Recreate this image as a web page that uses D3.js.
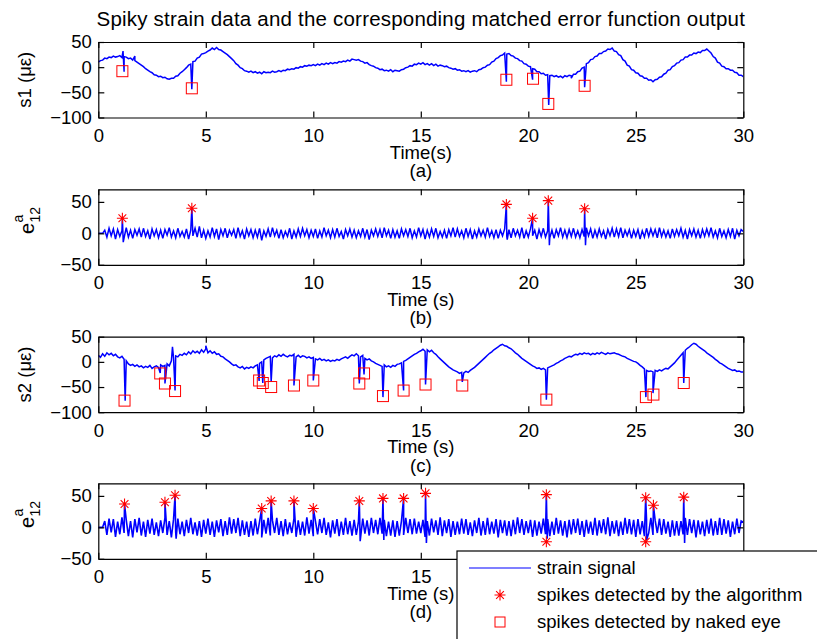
<!DOCTYPE html>
<html><head><meta charset="utf-8">
<script src="https://cdn.jsdelivr.net/npm/d3@7"></script>
<style>body{margin:0;background:#fff} text{font-family:"Liberation Sans",Arial,sans-serif;fill:#000}</style>
</head><body><svg id="chart" width="817" height="639"></svg>
<script>
const dt = 0.1; // sampling step (s) of the arrays below
const xTicks = [0,5,10,15,20,25,30];

// (a) strain s1, one value per 0.1 s
const s1 = [10,13,14,18,17,20,19,22,20,21, 23,19,21,20,17,18,14,13,10,7, 4,1,-3,-6,-9,-11,-15,-16,-19,-18,
 -21,-20,-23,-24,-22,-22,-18,-17,-12,-9, -5,-1,4,6,11,12,18,20,26,27, 29,32,34,38,35,39,35,34,31,28,
 25,21,17,13,7,4,-1,-3,-7,-8, -10,-8,-11,-9,-12,-10,-13,-9,-11,-10, -11,-8,-10,-9,-7,-9,-6,-7,-4,-5,
 -3,-4,-1,-2,1,0,3,2,4,3, 5,3,6,4,7,5,8,6,9,7, 9,8,11,10,12,11,14,12,16,15,
 14,15,12,11,8,9,5,3,2,-1, -2,-5,-4,-7,-6,-8,-5,-9,-6,-7, -8,-5,-4,-1,0,3,2,6,5,8,
 6,9,5,7,4,7,3,6,2,4, 3,1,2,-1,-2,-4,-3,-6,-5,-8, -7,-9,-7,-10,-8,-7,-9,-5,-4,-1,
 0,4,5,10,12,17,19,23,24,28, 26,27,23,22,18,17,13,12,7,6, 2,1,-3,-4,-9,-9,-13,-12,-16,-15,
 -17,-16,-19,-17,-20,-18,-21,-17,-19,-16, -17,-14,-14,-9,-8,-2,0,7,9,15, 16,21,22,27,27,31,32,36,35,38,
 32,31,25,23,15,12,4,2,-5,-6, -11,-12,-17,-18,-22,-22,-26,-25,-29,-25, -24,-20,-19,-14,-12,-6,-5,1,3,8,
 9,14,15,20,20,24,24,28,27,30, 29,33,33,36,32,28,21,18,10,8, 2,1,-3,-3,-6,-6,-10,-11,-16,-16, -19];
const s1Spikes = [[1.15,32],[1.2,-9],[1.7,22],[4.35,-44],[18.98,-29],[20.2,-25],[20.95,-75],[22.0,-22],[22.62,-40]];
const s1Eye = [[1.12,-8],[4.35,-42],[18.98,-25],[20.22,-23],[20.93,-73],[22.62,-37]];

// (b) matched error function of s1
const e1 = [0,0,0,5,-6,8,-4,7,-9,6, -5,4,-7,9,-6,5,-8,6,-3,7, -6,8,-5,4,-9,7,-4,6,-7,5, -8,6,-3,9,-6,4,-7,8,-5,3,
 -6,7,-9,5,-4,8,-6,11,-7,5, -8,4,-6,9,-5,7,-10,6,-4,8, -7,5,-3,6,-8,9,-5,4,-9,7, -4,6,-7,5,-6,8,-11,4,-5,7,
 -6,9,-4,5,-8,6,-7,3,-5,8, -9,4,-6,7,-5,8,-4,6,-7,5, -5,7,-8,4,-6,9,-4,5,-7,6, -6,8,-5,3,-9,6,-4,7,-6,5,
 -7,4,-5,8,-6,6,-10,5,-4,7, -5,6,-7,9,-4,5,-8,6,-6,4, -8,7,-4,6,-5,8,-7,4,-6,9, -4,6,-9,5,-6,7,-5,8,-7,3,
 -6,5,-8,6,-4,9,-6,7,-5,4, -7,8,-5,6,-9,4,-6,7,-4,5, -6,9,-5,4,-7,6,-8,5,-4,7, -5,6,-7,8,-4,5,-6,9,-8,4,
 -6,7,-4,5,-9,6,-5,8,-6,4, -7,5,-8,6,-4,9,-6,5,-7,6, -5,8,-6,4,-7,6,-5,9,-4,7, -8,5,-6,7,-5,4,-9,6,-4,8,
 -6,7,-5,9,-7,5,-4,6,-8,5, -5,6,-9,4,-6,8,-5,7,-4,6, -7,9,-5,5,-6,4,-8,7,-5,6, -4,8,-6,5,-9,6,-4,7,-6,5,
 -8,6,-5,7,-4,9,-6,4,-7,8, -5,4,-7,6,-5,8,-9,5,-4,6, 3];
const e1Spikes = [[1.12,24],[1.16,-14],[4.35,40],[18.98,46],[19.02,-10],[20.2,24],[20.93,52],[20.98,-19],[22.62,39],[22.66,-19]];
const e1Alg = [[1.12,24],[4.35,40],[18.98,46],[20.2,24],[20.93,52],[22.62,39]];

// (c) strain s2
const s2 = [13,9,16,11,18,14,17,12,15,10, 8,11,5,2,-4,-7,-5,-9,-6,-10, -8,-12,-9,-11,-7,-13,-10,-8,-11,-6,
 -9,-7,-4,-8,2,8,12,10,15,13, 17,14,20,16,22,18,21,17,24,19, 26,18,22,17,20,15,16,11,10,6,
 3,0,-4,-7,-6,-10,-12,-9,-14,-11, -13,-10,-12,-8,-6,-3,0,4,7,9, 11,8,12,10,14,11,15,12,10,13,
 12,15,10,13,9,12,11,8,10,7, 9,6,4,7,3,5,2,4,1,3, 2,5,3,6,8,10,7,11,14,12,
 16,12,10,13,7,4,6,2,0,-3, -5,-7,-9,-6,-10,-8,-11,-7,-9,-5, -4,-2,1,3,6,9,12,15,17,20,
 22,25,21,24,20,23,18,15,10,6, 2,-2,-6,-10,-13,-16,-18,-20,-23,-21, -22,-19,-21,-17,-14,-11,-7,-3,1,5,
 9,13,17,20,24,27,30,33,35,32, 31,28,26,22,18,15,11,7,4,1, -2,-5,-8,-10,-13,-12,-15,-13,-16,-12,
 -10,-8,-6,-3,-1,2,4,7,9,11, 10,13,15,14,17,15,18,16,17,14, 17,15,18,16,19,17,15,18,16,17,
 18,16,15,13,11,10,7,5,3,1, 0,-3,-7,-10,-14,-17,-19,-18,-20,-17, -19,-16,-18,-15,-13,-14,-10,-6,-2,3,
 8,13,18,23,27,30,34,37,35,31, 28,25,22,18,15,12,9,5,2,-2, -4,-7,-10,-13,-15,-17,-16,-19,-18,-20, -20];
const s2Spikes = [[1.25,-77],[2.88,-22],[3.1,-43],[3.45,30],[3.57,-57],[5.0,32],[7.48,-38],[7.65,-42],[8.04,-40],
 [9.1,-47],[10.0,-37],[12.14,-43],[12.36,-25],[13.24,-70],[14.2,-57],[15.22,-45],[16.93,-40],[20.84,-75],
 [25.47,-70],[25.8,-62],[27.23,-42]];
const s2Eye = [[1.22,-77],[2.88,-23],[3.1,-43],[3.57,-58],[7.48,-37],[7.65,-42],[8.04,-50],[9.1,-47],[10.0,-37],
 [12.14,-43],[12.36,-23],[13.24,-68],[14.2,-57],[15.22,-45],[16.93,-47],[20.84,-75],[25.47,-70],[25.82,-65],[27.23,-42]];

// (d) matched error function of s2
const e2 = [0,0,0,10,-12,14,-8,13,-15,9, -11,16,-9,12,-14,10,-16,13,-8,15, -13,9,-15,12,-10,14,-12,8,-14,11,
 -9,15,-12,10,-16,13,-8,14,-11,9, -14,12,-9,15,-11,8,-13,10,-15,12, -10,14,-12,9,-15,11,-8,13,-14,10,
 -12,16,-10,13,-9,15,-14,11,-12,9, -15,10,-13,14,-11,9,-16,12,-10,15, -13,11,-9,15,-12,10,-14,13,-11,8,
 -9,14,-15,11,-12,9,-13,16,-10,12, -14,10,-11,13,-9,15,-12,8,-16,11, -10,13,-14,9,-12,15,-11,10,-13,12,
 -12,9,-16,14,-10,11,-13,15,-9,12, -11,15,-10,12,-14,9,-13,11,-15,10, -13,10,-12,15,-9,13,-11,14,-10,9,
 -9,12,-15,10,-13,14,-8,11,-12,16, -14,11,-9,13,-15,10,-12,9,-11,14, -10,13,-12,8,-14,11,-9,15,-13,10,
 -12,15,-11,9,-10,13,-16,12,-9,11, -13,10,-14,12,-11,16,-9,13,-12,10, -9,12,-15,11,-13,9,-10,14,-11,13,
 -14,9,-12,15,-10,11,-13,10,-16,12, -11,13,-9,14,-12,10,-15,12,-10,9, -12,15,-13,11,-9,13,-11,16,-14,10,
 -10,11,-14,9,-12,15,-10,13,-11,12, -15,13,-11,10,-14,12,-9,15,-12,11, -9,14,-12,13,-10,9,-15,11,-13,10,
 -13,10,-11,15,-12,13,-9,12,-16,11, -11,9,-14,12,-10,14,-13,10,-12,15, -12,13,-10,11,-15,9,-11,14,-9,10, 8];
const e2Spikes = [[1.22,37],[3.1,40],[3.57,51],[3.62,-18],[7.6,30],[8.04,42],[9.1,42],[10.0,30],[12.14,42],[12.18,-22],
 [13.24,46],[13.28,-20],[14.2,46],[15.22,54],[15.26,-25],[20.84,52],[20.88,-18],[25.46,47],[25.5,-20],[25.82,35],[27.23,48],[27.27,-25]];
const e2Alg = [[1.22,37],[3.1,40],[3.57,51],[7.6,30],[8.04,42],[9.1,42],[10.0,30],[12.14,42],[13.24,46],[14.2,46],
 [15.22,54],[20.84,52],[20.84,-23],[25.46,47],[25.46,-23],[25.82,35],[27.23,48]];

const titleText = "Spiky strain data and the corresponding matched error function output";
const legendLabels = ["strain signal","spikes detected by the algorithm","spikes detected by naked eye"];

const panels = [
  {top:42,    domain:[-100,50], yticks:[-100,-50,0,50], series:s1, spikes:s1Spikes, squares:s1Eye, stars:[], xlabel:"Time(s)",  letter:"(a)", ylab:"s1  (με)", sw:1.5},
  {top:189.3, domain:[-50,70],  yticks:[-50,0,50],      series:e1, spikes:e1Spikes, squares:[], stars:e1Alg, xlabel:"Time (s)", letter:"(b)", ylab:null, sw:1.5},
  {top:336.7, domain:[-100,50], yticks:[-100,-50,0,50], series:s2, spikes:s2Spikes, squares:s2Eye, stars:[], xlabel:"Time (s)", letter:"(c)", ylab:"s2  (με)", sw:1.5},
  {top:483.3, domain:[-50,70],  yticks:[-50,0,50],      series:e2, spikes:e2Spikes, squares:[], stars:e2Alg, xlabel:"Time (s)", letter:"(d)", ylab:null, sw:1.6}
];

const svg = d3.select("#chart");
svg.append("rect").attr("width",817).attr("height",639).attr("fill","#fff");
const L = 98.3, R = 743.3, PH = 75.5, FS = 18.5;
const x = d3.scaleLinear().domain([0,30]).range([L,R]);

function starPath(cx, cy, r){
  const d = r*0.7071;
  return `M${cx-r},${cy}H${cx+r}M${cx},${cy-r}V${cy+r}M${cx-d},${cy-d}L${cx+d},${cy+d}M${cx-d},${cy+d}L${cx+d},${cy-d}`;
}

svg.append("text").attr("x",(L+R)/2).attr("y",26).attr("text-anchor","middle")
  .style("font-size","20.5px").style("letter-spacing","0.2px").text(titleText);

panels.forEach((p,i)=>{
  const y = d3.scaleLinear().domain(p.domain).range([p.top+PH, p.top]);
  const g = svg.append("g");
  const cid = "clip"+i;
  svg.append("clipPath").attr("id",cid).append("rect")
    .attr("x",L).attr("y",p.top).attr("width",R-L).attr("height",PH);

  const pts = p.series.map((v,k)=>[k*dt, v]).concat(p.spikes).sort((a,b)=>a[0]-b[0]);
  g.append("path").attr("clip-path",`url(#${cid})`)
    .attr("d", d3.line().x(d=>x(d[0])).y(d=>y(d[1]))(pts))
    .attr("fill","none").attr("stroke","#0000ff").attr("stroke-width",p.sw).attr("stroke-linejoin","miter");

  // axes (inward ticks, box)
  const ax = g.append("g").attr("transform",`translate(0,${p.top+PH})`)
    .call(d3.axisBottom(x).tickValues(xTicks).tickSize(-6).tickSizeOuter(0).tickPadding(11.5).tickFormat(d3.format("d")));
  const axT = g.append("g").attr("transform",`translate(0,${p.top})`)
    .call(d3.axisTop(x).tickValues(xTicks).tickSize(-6).tickSizeOuter(0).tickFormat(""));
  const ay = g.append("g").attr("transform",`translate(${L},0)`)
    .call(d3.axisLeft(y).tickValues(p.yticks).tickSize(-6).tickSizeOuter(0).tickPadding(6.5));
  const ayR = g.append("g").attr("transform",`translate(${R},0)`)
    .call(d3.axisRight(y).tickValues(p.yticks).tickSize(-6).tickSizeOuter(0).tickFormat(""));
  [ax,axT,ay,ayR].forEach(a=>{
    a.selectAll("text").style("font-size",FS+"px").style("font-family","'Liberation Sans',Arial,sans-serif").attr("fill","#000");
    a.selectAll("line,path").attr("stroke","#000").attr("stroke-width",1.2);
  });

  // markers
  g.selectAll(".sq").data(p.squares).join("rect")
    .attr("x",d=>x(d[0])-5.5).attr("y",d=>y(d[1])-5.5).attr("width",11).attr("height",11)
    .attr("fill","none").attr("stroke","#ff0000").attr("stroke-width",1);
  g.selectAll(".st").data(p.stars).join("path")
    .attr("d",d=>starPath(x(d[0]),y(d[1]),5.5))
    .attr("fill","none").attr("stroke","#ff0000").attr("stroke-width",1.1);

  // labels
  const bottom = p.top+PH;
  g.append("text").attr("x",(L+R)/2).attr("y",bottom+41).attr("text-anchor","middle")
    .style("font-size",FS+"px").text(p.xlabel);
  g.append("text").attr("x",(L+R)/2).attr("y",bottom+59.5).attr("text-anchor","middle")
    .style("font-size",FS+"px").text(p.letter);
  const cy = p.top+PH/2;
  if(p.ylab){
    g.append("text").attr("transform",`translate(31,${cy}) rotate(-90)`).attr("text-anchor","middle")
      .style("font-size",FS+"px").text(p.ylab);
  } else {
    const lg = g.append("g").attr("transform",`translate(28,${cy-6}) rotate(-90)`);
    lg.append("text").attr("x",-13).attr("y",6).style("font-size","20px").text("e");
    lg.append("text").attr("x",-1.5).attr("y",-5).style("font-size","14px").text("a");
    lg.append("text").attr("x",-1.5).attr("y",12).style("font-size","14px").text("12");
  }
});

// legend
const lgd = svg.append("g");
lgd.append("rect").attr("x",457).attr("y",551).attr("width",420).attr("height",120)
  .attr("fill","#fff").attr("stroke","#000").attr("stroke-width",1.2);
lgd.append("line").attr("x1",469).attr("x2",531).attr("y1",568).attr("y2",568)
  .attr("stroke","#0000ff").attr("stroke-width",1.1);
lgd.append("path").attr("d",starPath(500,595,5.5)).attr("fill","none").attr("stroke","#ff0000").attr("stroke-width",1.1);
lgd.append("rect").attr("x",495).attr("y",617).attr("width",10).attr("height",10)
  .attr("fill","none").attr("stroke","#ff0000").attr("stroke-width",1);
legendLabels.forEach((t,k)=>{
  lgd.append("text").attr("x",537).attr("y",568+k*27).attr("dy","0.35em")
    .style("font-size",FS+"px").text(t);
});
</script></body></html>
